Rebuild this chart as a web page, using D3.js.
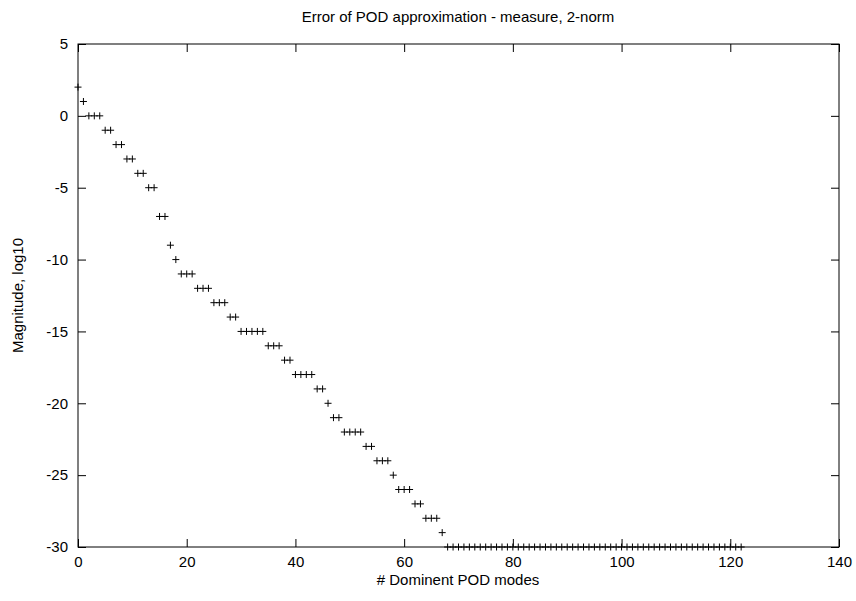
<!DOCTYPE html>
<html>
<head>
<meta charset="utf-8">
<script src="https://cdn.jsdelivr.net/npm/d3@7"></script>
<style>
  html, body { margin: 0; padding: 0; background: #fff; }
  svg { display: block; font-family: "Liberation Sans", Arial, sans-serif; }
</style>
</head>
<body>
<svg id="chart" width="856" height="601"></svg>
<script>
// Error magnitude (log10) for each number of dominant POD modes
const modes = d3.range(0, 123);
const runs = [
  [0, 0, 2], [1, 1, 1], [2, 4, 0], [5, 6, -1], [7, 8, -2], [9, 10, -3],
  [11, 12, -4], [13, 14, -5], [15, 16, -7], [17, 17, -9], [18, 18, -10],
  [19, 21, -11], [22, 24, -12], [25, 27, -13], [28, 29, -14], [30, 34, -15],
  [35, 37, -16], [38, 39, -17], [40, 43, -18], [44, 45, -19], [46, 46, -20],
  [47, 48, -21], [49, 52, -22], [53, 54, -23], [55, 57, -24], [58, 58, -25],
  [59, 61, -26], [62, 63, -27], [64, 66, -28], [67, 67, -29], [68, 122, -30]
];
const magnitude = modes.map(m => runs.find(r => m >= r[0] && m <= r[1])[2]);

const xTicks = [0, 20, 40, 60, 80, 100, 120, 140];
const yTicks = [5, 0, -5, -10, -15, -20, -25, -30];

const titleText = "Error of POD approximation - measure, 2-norm";
const xLabel = "# Dominent POD modes";
const yLabel = "Magnitude, log10";

const svg = d3.select("#chart");
const plotLeft = 78, plotRight = 839, plotTop = 44, plotBottom = 547;

const x = d3.scaleLinear().domain([0, 140]).range([plotLeft, plotRight]);
const y = d3.scaleLinear().domain([-30, 5]).range([plotBottom, plotTop]);

const tickLen = 8;
const fs = 15;
const plain = d => String(d);   // ASCII hyphen for negatives

// axes with inward ticks, mirrored on the opposite sides
svg.append("g").attr("transform", `translate(0,${plotBottom})`)
  .call(d3.axisBottom(x).tickValues(xTicks).tickFormat(plain).tickSize(-tickLen).tickPadding(9))
  .call(g => g.select(".domain").remove());
svg.append("g").attr("transform", `translate(0,${plotTop})`)
  .call(d3.axisTop(x).tickValues(xTicks).tickSize(-tickLen).tickFormat(""))
  .call(g => g.select(".domain").remove());
svg.append("g").attr("transform", `translate(${plotLeft},0)`)
  .call(d3.axisLeft(y).tickValues(yTicks).tickFormat(plain).tickSize(-tickLen).tickPadding(10))
  .call(g => g.select(".domain").remove());
svg.append("g").attr("transform", `translate(${plotRight},0)`)
  .call(d3.axisRight(y).tickValues(yTicks).tickSize(-tickLen).tickFormat(""))
  .call(g => g.select(".domain").remove());

svg.selectAll(".tick line").attr("stroke", "#000").attr("stroke-width", 1);
svg.selectAll(".tick text").attr("fill", "#000").style("font-size", fs + "px")
  .style("font-family", '"Liberation Sans", Arial, sans-serif');

// frame
svg.append("rect")
  .attr("x", plotLeft).attr("y", plotTop)
  .attr("width", plotRight - plotLeft).attr("height", plotBottom - plotTop)
  .attr("fill", "none").attr("stroke", "#000").attr("stroke-width", 1);

// point markers
const half = 3.5;
const pts = svg.append("g").attr("stroke", "#000").attr("stroke-width", 1).attr("fill", "none");
pts.selectAll("path").data(modes).join("path")
  .attr("d", m => {
    const cx = x(m), cy = y(magnitude[m]);
    return `M${cx - half},${cy}H${cx + half}M${cx},${cy - half}V${cy + half}`;
  });

// titles
svg.append("text").attr("x", 458).attr("y", 22).attr("text-anchor", "middle")
  .style("font-size", fs + "px").text(titleText);
svg.append("text").attr("x", 458).attr("y", 585).attr("text-anchor", "middle")
  .style("font-size", fs + "px").text(xLabel);
svg.append("text").attr("transform", `translate(23,${(plotTop + plotBottom) / 2}) rotate(-90)`)
  .attr("text-anchor", "middle").style("font-size", fs + "px").text(yLabel);
</script>
</body>
</html>
